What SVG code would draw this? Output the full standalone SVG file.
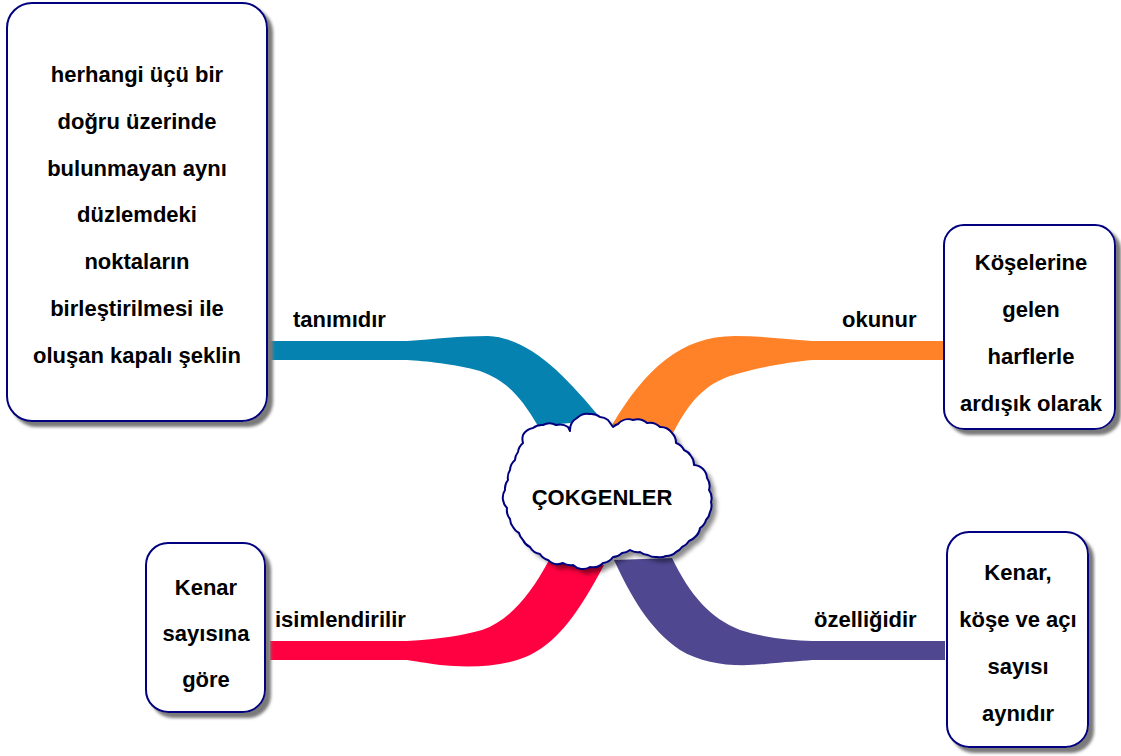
<svg xmlns="http://www.w3.org/2000/svg" width="1121" height="756" viewBox="0 0 1121 756">
  <defs>
    <filter id="dropShadow" x="-10%" y="-10%" width="130%" height="130%">
      <feGaussianBlur in="SourceAlpha" stdDeviation="1.5" result="blur"/>
      <feOffset in="blur" dx="5" dy="5" result="off"/>
      <feFlood flood-color="#7a7a7a"/>
      <feComposite in2="off" operator="in" result="shadow"/>
      <feMerge>
        <feMergeNode in="shadow"/>
        <feMergeNode in="SourceGraphic"/>
      </feMerge>
    </filter>
    <filter id="cloudShadow" x="-10%" y="-10%" width="130%" height="130%">
      <feGaussianBlur stdDeviation="2"/>
    </filter>
    <path id="cloudShape" d="M523,435 A14,14 0 0 1 533,428 A14,14 0 0 1 543,425 A14,14 0 0 1 556,425 A14,14 0 0 1 568,427 L570,431 A14,14 0 0 1 577,418 A14,14 0 0 1 590,414 A14,14 0 0 1 600,417 A14,14 0 0 1 608,420 L613,427 A14,14 0 0 1 618,424 A14,14 0 0 1 633,420 A14,14 0 0 1 647,423 A14,14 0 0 1 660,427 A14,14 0 0 1 672,433 A14,14 0 0 1 676,443 A14,14 0 0 1 684,450 A14,14 0 0 1 691,456 A14,14 0 0 1 694,465 A14,14 0 0 1 703,469 A14,14 0 0 1 707,478 A14,14 0 0 1 709,490 A14,14 0 0 1 711,502 A14,14 0 0 1 710,512 A14,14 0 0 1 706,520 A14,14 0 0 1 700,528 A14,14 0 0 1 695,537 A14,14 0 0 1 689,541 A14,14 0 0 1 682,547 A14,14 0 0 1 676,552 A14,14 0 0 1 666,556 A14,14 0 0 1 657,557 A14,14 0 0 1 648,555 A14,14 0 0 1 640,552 A14,14 0 0 1 630,550 A14,14 0 0 1 622,553 A14,14 0 0 1 613,557 A14,14 0 0 1 603,563 A14,14 0 0 1 590,567 A14,14 0 0 1 573,565 A14,14 0 0 1 563,563 A14,14 0 0 1 548,560 A14,14 0 0 1 540,554 A14,14 0 0 1 530,547 A14,14 0 0 1 523,540 A14,14 0 0 1 519,533 A14,14 0 0 1 513,527 A14,14 0 0 1 510,519 A14,14 0 0 1 507,508 A14,14 0 0 1 503,500 A14,14 0 0 1 505,490 A14,14 0 0 1 508,480 A14,14 0 0 1 510,470 A14,14 0 0 1 515,460 A14,14 0 0 1 518,452 A14,14 0 0 1 523,443 A14,14 0 0 1 523,435 Z"/>
  </defs>
  <style>
    .box { fill: #ffffff; stroke: #000080; stroke-width: 2; filter: url(#dropShadow); }
    .txt { font-family: "Liberation Sans", Arial, sans-serif; font-size: 22px; font-weight: bold; fill: #000000; text-anchor: middle; }
    .lbl { font-family: "Liberation Sans", Arial, sans-serif; font-size: 22px; font-weight: bold; fill: #000000; }
  </style>
  <rect width="1121" height="756" fill="#ffffff"/>

  <!-- branches from the centre to each box -->
  <g id="connectors">
    <path id="branch-tanim" fill="#0582b0" d="M270,341 L407,341 C435,339 460,336 488,336 C530,338 565,375 602,420 L538,426 C520,395 505,380 480,371 C455,364 425,361 407,360 L270,360 Z"/>
    <path id="branch-okunur" fill="#ff8128" d="M945,341 L812,341 C785,339 760,336 735,336 C680,336 645,370 612,425 L672,435 C690,400 705,385 730,376 C760,367 790,362 812,360 L945,360 Z"/>
    <path id="branch-isim" fill="#ff0040" d="M270,641 L407,641 C440,639 465,635 482,630 C510,620 530,595 548,562 L604,565 C580,610 560,640 530,655 C505,667 470,668 440,665 C425,663 415,661 407,660 L270,660 Z"/>
    <path id="branch-ozellik" fill="#4f4891" d="M945,641 L812,641 C790,640 765,638 740,630 C710,618 690,595 672,558 L614,560 C630,595 650,630 680,650 C705,665 735,667 765,664 C785,662 800,661 812,660 L945,660 Z"/>
    <text class="lbl" x="293" y="327">tanımıdır</text>
    <text class="lbl" x="842" y="327">okunur</text>
    <text class="lbl" x="275" y="627">isimlendirilir</text>
    <text class="lbl" x="814" y="627">özelliğidir</text>
  </g>

  <!-- central cloud -->
  <g id="node-center">
    <use href="#cloudShape" transform="translate(5,5)" fill="#000000" fill-opacity="0.45" filter="url(#cloudShadow)"/>
    <use href="#cloudShape" fill="#ffffff" stroke="#000080" stroke-width="2" stroke-linejoin="round"/>
    <text class="txt" x="602" y="505">ÇOKGENLER</text>
  </g>

  <g id="node-tanim">
    <rect class="box" x="7" y="3" width="260" height="418" rx="25" ry="25"/>
    <text class="txt" x="137" y="82">herhangi üçü bir</text>
    <text class="txt" x="137" y="129">doğru üzerinde</text>
    <text class="txt" x="137" y="176">bulunmayan aynı</text>
    <text class="txt" x="137" y="222">düzlemdeki</text>
    <text class="txt" x="137" y="269">noktaların</text>
    <text class="txt" x="137" y="316">birleştirilmesi ile</text>
    <text class="txt" x="137" y="363">oluşan kapalı şeklin</text>
  </g>

  <g id="node-okunur">
    <rect class="box" x="944" y="225" width="171" height="204" rx="20" ry="20"/>
    <text class="txt" x="1031" y="270">Köşelerine</text>
    <text class="txt" x="1031" y="317">gelen</text>
    <text class="txt" x="1031" y="364">harflerle</text>
    <text class="txt" x="1031" y="411">ardışık olarak</text>
  </g>

  <g id="node-isim">
    <rect class="box" x="146" y="543" width="119" height="169" rx="22" ry="22"/>
    <text class="txt" x="206" y="595">Kenar</text>
    <text class="txt" x="206" y="641">sayısına</text>
    <text class="txt" x="206" y="687">göre</text>
  </g>

  <g id="node-ozellik">
    <rect class="box" x="947" y="532" width="141" height="215" rx="22" ry="22"/>
    <text class="txt" x="1018" y="580">Kenar,</text>
    <text class="txt" x="1018" y="627">köşe ve açı</text>
    <text class="txt" x="1018" y="674">sayısı</text>
    <text class="txt" x="1018" y="721">aynıdır</text>
  </g>
</svg>
